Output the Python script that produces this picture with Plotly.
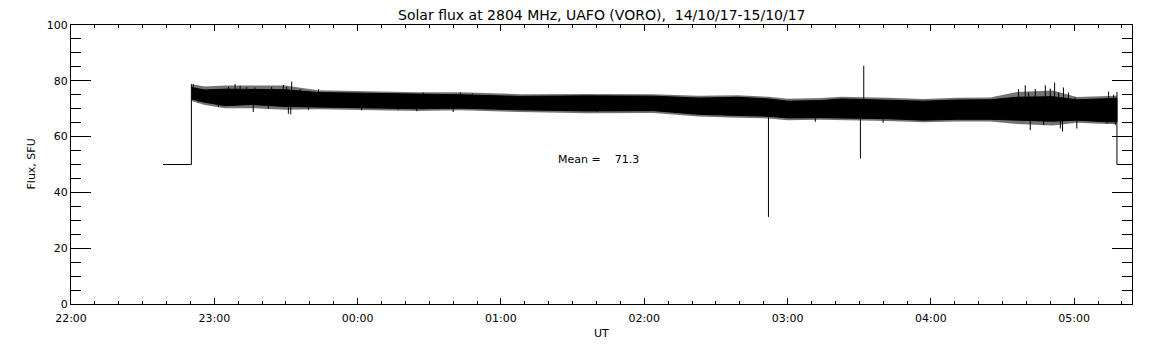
import numpy as np
import plotly.graph_objects as go

# Time axis: minutes after 22:00 UT (14/10/17)
hour_ticks = [0, 60, 120, 180, 240, 300, 360, 420]
hour_labels = ["22:00", "23:00", "00:00", "01:00", "02:00", "03:00", "04:00", "05:00"]
x_end = 444.2

# Solid core envelope of the noisy flux record (SFU)
band_t = [50.5, 56, 64.5, 75.7, 89.6, 103.4, 117.5, 131.5, 145.3, 163, 188, 216, 244,
          262.6, 279, 292, 300, 314, 322.7, 342, 356.8, 370.9, 384.8, 396, 411, 421,
          433.7, 437.9]
band_hi = [77.6, 76.7, 77.0, 76.8, 76.8, 75.8, 75.6, 75.5, 75.2, 75.0, 74.4, 74.6, 74.5,
           73.8, 74.1, 73.5, 72.7, 72.9, 73.5, 73.1, 72.7, 73.1, 73.2, 74.1, 74.3, 73.2,
           73.7, 73.7]
band_lo = [73.5, 72.3, 71.1, 71.5, 70.8, 70.6, 70.3, 70.2, 70.0, 70.2, 69.6, 69.2, 69.3,
           68.0, 67.6, 67.3, 66.7, 66.8, 66.8, 66.4, 65.9, 66.2, 66.2, 65.9, 65.5, 65.9,
           65.3, 65.3]
# Typical reach of the dense noise hairs around the core
hair_hi = [78.8, 78.0, 78.3, 78.3, 78.3, 76.6, 76.3, 76.2, 75.9, 75.9, 75.2, 75.3, 75.2,
           74.6, 74.8, 74.3, 73.6, 73.8, 74.3, 73.9, 73.5, 73.9, 74.0, 76.0, 76.5, 74.2,
           74.6, 74.6]
hair_lo = [72.8, 71.3, 70.2, 70.2, 69.6, 69.8, 69.5, 69.4, 69.2, 69.4, 68.8, 68.4, 68.5,
           67.2, 66.8, 66.5, 65.9, 66.0, 66.0, 65.6, 65.1, 65.4, 65.4, 64.5, 64.0, 65.0,
           64.5, 64.5]

# Calibration level before/after the record
pre_t = [38.5, 50.4]
pre_v = [50, 50]
post_t = [437.9, x_end]
post_v = [50, 50]
start_peak = 78.8
end_peak = 76.0

# Upward noise spikes
spike_up_t = [51.2, 65.9, 68.7, 70.8, 73.6, 77, 84, 88.9, 90.3, 92.4, 95.9, 103.6,
              147.5, 163, 168, 331.9, 396.7, 399.5, 400.9, 403.7, 407.9, 410, 411.8,
              413.5, 415.5, 417.6, 420.4, 434.4, 436.5]
spike_up_v = [78.8, 77.8, 78.8, 78.2, 77.8, 77.6, 77.8, 78.5, 77.8, 79.7, 77.0, 77.0,
              75.8, 75.8, 75.4, 85.4, 77.0, 78.4, 75.8, 77.0, 78.4, 77.2, 79.4,
              75.8, 77.6, 75.8, 74.1, 76.1, 75.0]
# Downward noise spikes
spike_dn_t = [53.3, 61.7, 76.3, 82.6, 91, 92, 99.4, 121.7, 137, 144.8, 160, 220,
              292, 311.6, 330.5, 340, 401.6, 407.2, 414.2, 415.1, 421.1, 433.7, 437.2]
spike_dn_v = [72.3, 70.6, 68.8, 70.0, 68.2, 68.0, 69.6, 69.4, 69.6, 69.1, 68.8, 68.8,
              31.2, 65.3, 52.1, 64.9, 62.3, 64.1, 62.9, 61.8, 62.9, 64.7, 64.1]

mean_text = "Mean =\u00a0\u00a0\u00a0 71.3"
title_text = "Solar flux at 2804 MHz, UAFO (VORO),\u00a0 14/10/17-15/10/17"

mid = (np.array(band_hi) + np.array(band_lo)) / 2.0

fig = go.Figure()

# hair zone (dense noise, rendered as dark grey)
fig.add_trace(go.Scatter(
    x=band_t + band_t[::-1], y=hair_hi + hair_lo[::-1],
    fill="toself", fillcolor="rgba(0,0,0,0.55)", mode="lines",
    line=dict(color="rgba(0,0,0,0)", width=0), hoverinfo="skip", showlegend=False))

# solid core band
fig.add_trace(go.Scatter(
    x=band_t + band_t[::-1], y=band_hi + band_lo[::-1],
    fill="toself", fillcolor="black", mode="lines",
    line=dict(color="black", width=1), hoverinfo="skip", showlegend=False))

# spikes
sx, sy = [], []
for t, v in zip(spike_up_t + spike_dn_t, spike_up_v + spike_dn_v):
    base = float(np.interp(t, band_t, mid))
    sx += [t, t, None]
    sy += [v, base, None]
fig.add_trace(go.Scatter(x=sx, y=sy, mode="lines", line=dict(color="black", width=1),
                         hoverinfo="skip", showlegend=False))

# leading and trailing steps
fig.add_trace(go.Scatter(x=pre_t + [pre_t[-1]], y=pre_v + [start_peak], mode="lines",
                         line=dict(color="black", width=1), showlegend=False))
fig.add_trace(go.Scatter(x=[post_t[0]] + post_t, y=[end_peak] + post_v, mode="lines",
                         line=dict(color="black", width=1), showlegend=False))

font_main = "DejaVu Sans"

# page body adds an 8px offset; margins compensate so the plot box lands at
# x 71..1132, y 19..304 in the window
fig.update_layout(
    width=1152, height=345,
    margin=dict(l=63, r=28, t=11, b=49),
    paper_bgcolor="white", plot_bgcolor="white",
    showlegend=False,
    font=dict(family=font_main, size=11, color="black"),
    xaxis=dict(range=[0, x_end], tickmode="array", tickvals=hour_ticks, ticktext=hour_labels,
               ticks="inside", ticklen=6, tickwidth=1, tickcolor="black",
               ticklabelstandoff=4,
               minor=dict(tick0=0, dtick=10, ticks="inside", ticklen=3, tickcolor="black"),
               showline=True, linecolor="black", linewidth=1, mirror="ticks",
               showgrid=False, zeroline=False, tickfont=dict(size=11, family=font_main)),
    yaxis=dict(range=[0, 100], tick0=0, dtick=20,
               ticks="inside", ticklen=20, tickwidth=1, tickcolor="black",
               minor=dict(tick0=0, dtick=5, ticks="inside", ticklen=10, tickcolor="black"),
               showline=True, linecolor="black", linewidth=1, mirror="ticks",
               showgrid=False, zeroline=False, tickfont=dict(size=11, family=font_main)),
    annotations=[
        dict(text=title_text, xref="paper", yref="paper", x=0.5, y=1, yshift=10,
             xanchor="center", yanchor="middle", showarrow=False,
             font=dict(size=14, family=font_main)),
        dict(text="UT", xref="paper", yref="paper", x=0.5, y=0, yshift=-29,
             xanchor="center", yanchor="middle", showarrow=False,
             font=dict(size=11, family=font_main)),
        dict(text="Flux, SFU", xref="paper", yref="paper", x=0, y=0.5, xshift=-40,
             xanchor="center", yanchor="middle", textangle=-90, showarrow=False,
             font=dict(size=11, family=font_main)),
        dict(text=mean_text, xref="x", yref="y", x=203, y=51.7,
             xanchor="left", yanchor="middle", showarrow=False,
             font=dict(size=11, family=font_main)),
    ],
)

fig.write_html("out.html")
